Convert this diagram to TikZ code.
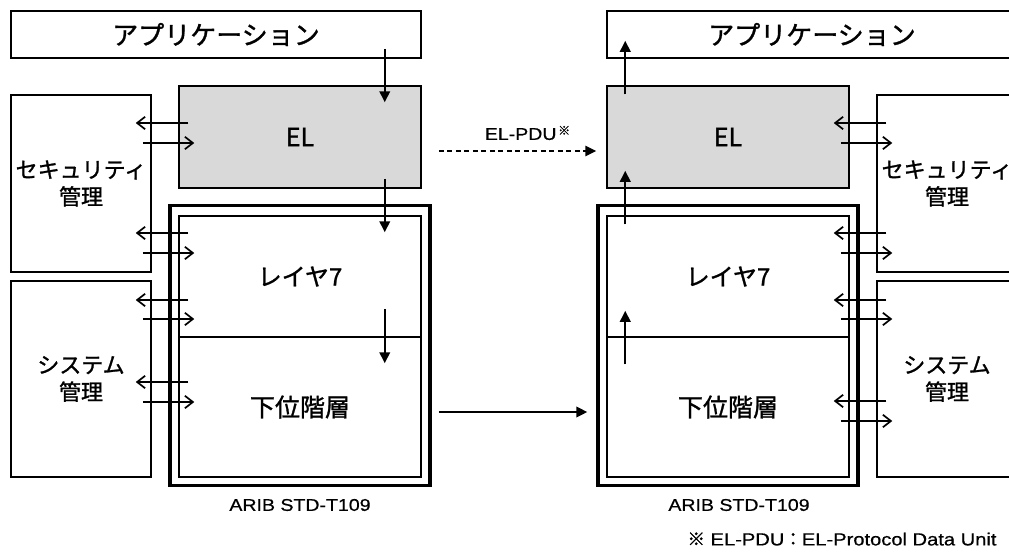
\documentclass[tikz,border=0pt]{standalone}
\usepackage{fontspec}
\newfontfamily\jp{Noto Sans CJK JP}[FakeBold=1.2]
\newfontfamily\arl{Liberation Sans}[FakeStretch=1.15,FakeBold=0.6]
\usetikzlibrary{arrows.meta,calc}
\definecolor{elgray}{RGB}{217,217,217}
\newcommand\arrowsL[4]{%
  \draw[oa] ($(#2.west|-0,#3)+(10,0)$) -- ($(#1.east|-0,#3)+(-16,0)$);
  \draw[oa] ($(#1.east|-0,#4)+(-9,0)$) -- ($(#2.west|-0,#4)+(16,0)$);}
\newcommand\arrowsR[4]{%
  \draw[oa] ($(#1.west|-0,#3)+(10,0)$) -- ($(#2.east|-0,#3)+(-16,0)$);
  \draw[oa] ($(#2.east|-0,#4)+(-9,0)$) -- ($(#1.west|-0,#4)+(16,0)$);}
\begin{document}
\begin{tikzpicture}[x=1pt,y=-1pt,
  box/.style={draw, line width=1.5pt, inner sep=0pt},
  outerbox/.style={draw, line width=3.4pt, inner sep=0pt, minimum width=260pt, minimum height=280pt},
  apptext/.style={font={\jp\fontsize{26}{30}\selectfont}},
  eltext/.style={font={\jp\fontsize{25}{28}\selectfont}},
  mgrtext/.style={align=center, font={\jp\fontsize{22}{27}\selectfont}},
  laytext/.style={font={\jp\fontsize{24}{28}\selectfont}},
  lowtext/.style={font={\jp\fontsize{25}{28}\selectfont}},
  captext/.style={font={\arl\fontsize{17}{20}\selectfont}},
  fa/.style={line width=2pt, -{Triangle[length=11pt,width=10.5pt]}},
  oa/.style={line width=1.7pt, -{Straight Barb[length=8pt,width=12.5pt,line width=1.7pt]}},
  da/.style={line width=1.5pt, dash pattern=on 5pt off 3.5pt, -{Triangle[length=11pt,width=10.5pt]}},
]
\useasboundingbox (0,0) rectangle (1009,552);
\clip (0,0) rectangle (1009,552);

% ---------------- left stack ----------------
\node[box, apptext, minimum width=410pt, minimum height=47pt] (appL) at (216,34.5) {アプリケーション};
\node[box, eltext, fill=elgray, minimum width=242pt, minimum height=102pt] (elL) at (300,137) {EL};
\node[box, mgrtext, minimum width=140pt, minimum height=177pt] (secL) at (81,183.5) {セキュリティ\\管理};
\node[box, mgrtext, minimum width=140pt, minimum height=196pt] (sysL) at (81,379) {システム\\管理};
\node[outerbox] (outL) at (300,345.5) {};
\node[box, laytext, minimum width=242pt, minimum height=121pt] (l7L) at (300,276.5) {レイヤ7};
\node[box, lowtext, minimum width=242pt, minimum height=140pt] (lowL) at (300,407) {下位階層};
\node[captext] (aribL) at (300,505) {ARIB STD-T109};

% ---------------- right stack ----------------
\node[box, apptext, minimum width=410pt, minimum height=47pt] (appR) at (812,34.5) {アプリケーション};
\node[box, eltext, fill=elgray, minimum width=242pt, minimum height=102pt] (elR) at (728,137) {EL};
\node[box, mgrtext, minimum width=140pt, minimum height=177pt] (secR) at (947,183.5) {セキュリティ\\管理};
\node[box, mgrtext, minimum width=140pt, minimum height=196pt] (sysR) at (947,379) {システム\\管理};
\node[outerbox] (outR) at (728,345.5) {};
\node[box, laytext, minimum width=242pt, minimum height=121pt] (l7R) at (728,276.5) {レイヤ7};
\node[box, lowtext, minimum width=242pt, minimum height=140pt] (lowR) at (728,407) {下位階層};
\node[captext] (aribR) at (739,505) {ARIB STD-T109};

% ---------------- vertical data flow ----------------
\draw[fa] ($(appL.south east)+(-37,-10)$) -- ($(elL.north east)+(-37,17)$);
\draw[fa] ($(elL.south east)+(-37,-10)$) -- ($(l7L.north east)+(-37,17)$);
\draw[fa] ($(l7L.south east)+(-37,-29)$) -- ($(lowL.north east)+(-37,27)$);
\draw[fa] ($(elR.north west)+(19,9)$) -- ($(appR.south west)+(19,-18)$);
\draw[fa] ($(l7R.north west)+(19,9)$) -- ($(elR.south west)+(19,-18)$);
\draw[fa] ($(lowR.north west)+(19,28)$) -- ($(l7R.south west)+(19,-27)$);

% ---------------- management arrows ----------------
\arrowsL{secL}{elL}{123}{143}
\arrowsL{secL}{l7L}{233}{253}
\arrowsL{sysL}{l7L}{300}{319}
\arrowsL{sysL}{lowL}{382}{402}
\arrowsR{secR}{elR}{123}{143}
\arrowsR{secR}{l7R}{233}{253}
\arrowsR{sysR}{l7R}{300}{319}
\arrowsR{sysR}{lowR}{401}{421}

% ---------------- peer links ----------------
\draw[da] ($(elL.east)+(17,14)$) -- node[xshift=10pt, yshift=18pt] (pdu)
  {{\arl\fontsize{17}{18}\selectfont EL-PDU}\,{\jp\fontsize{12}{12}\selectfont\raisebox{5pt}{※}}}
  ($(elR.west)+(-10,14)$);
\draw[fa] ($(outL.east)+(7,66.5)$) -- ($(outR.west)+(-9,66.5)$);

% ---------------- footnote ----------------
\node[font={\arl\fontsize{17.5}{19}\selectfont}] (note) at (842,539)
  {{\jp ※} EL-PDU{\jp ：}EL-Protocol Data Unit};
\end{tikzpicture}
\end{document}
